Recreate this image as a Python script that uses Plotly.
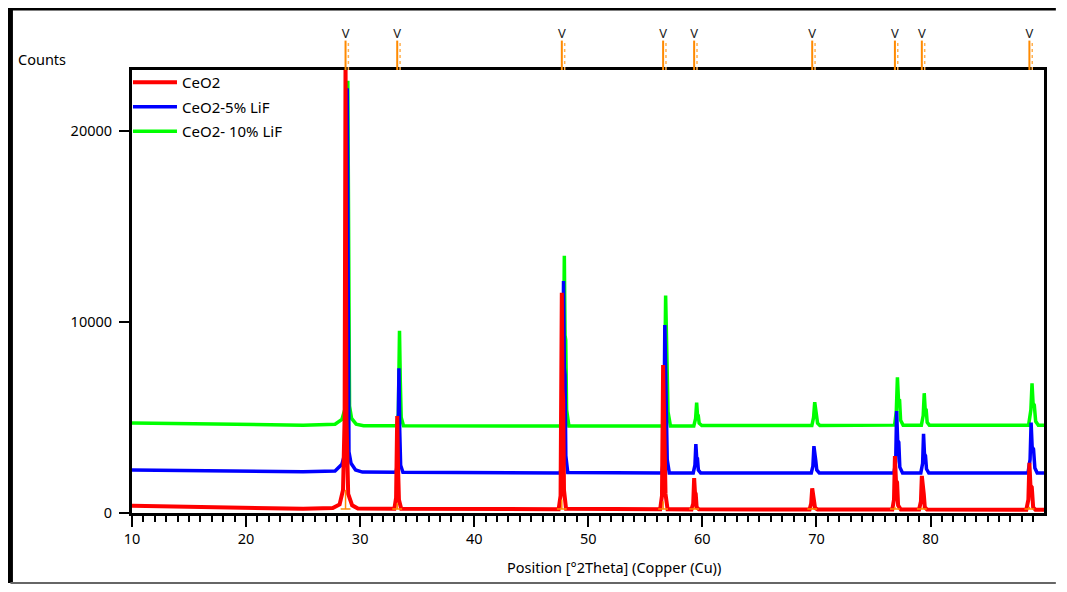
import plotly.graph_objects as go

# reference pattern (stick) positions and relative intensities
ref_pos = [28.72, 33.25, 47.68, 56.56, 59.28, 69.63, 76.88, 79.24, 88.67]
ref_rel = [100, 30, 50, 40, 8, 6, 12, 8, 12]

# CeO2 pattern, vertices
ceo2_x = [10, 13, 17, 21, 25, 27.6, 28.2, 28.5, 28.64, 28.72, 28.8, 28.95, 29.3, 29.8,
          33.0, 33.15, 33.25, 33.32, 33.4, 33.6,
          47.4, 47.57, 47.68, 47.74, 47.8, 47.87, 48.05,
          56.3, 56.46, 56.56, 56.63, 56.7, 56.77, 56.95,
          59.05, 59.2, 59.28, 59.35, 59.42, 59.5, 59.7,
          69.4, 69.54, 69.63, 69.7, 69.78, 69.88, 70.1,
          76.65, 76.8, 76.88, 76.97, 77.07, 77.16, 77.4,
          79.0, 79.16, 79.24, 79.32, 79.41, 79.5, 79.7,
          88.4, 88.58, 88.67, 88.76, 88.88, 89.0, 89.2, 90]
ceo2_y = [380, 350, 300, 260, 220, 260, 450, 1200, 5000, 24000, 5000, 1000, 400, 230,
          220, 800, 5080, 2500, 700, 220,
          200, 900, 11530, 6500, 5900, 1200, 220,
          200, 900, 7750, 4200, 4000, 1000, 200,
          190, 500, 1830, 1100, 1000, 300, 190,
          180, 500, 1290, 950, 900, 260, 180,
          180, 700, 2980, 1700, 1600, 400, 180,
          180, 600, 1940, 1050, 1000, 300, 180,
          170, 700, 2630, 1450, 1350, 300, 170, 170]

# CeO2-5% LiF
lif5_x = [10, 15, 20, 25, 27.8, 28.4, 28.7, 28.8, 28.87, 28.95, 29.02, 29.2, 29.6, 30.2,
          33.15, 33.3, 33.4, 33.47, 33.55, 33.75,
          47.55, 47.72, 47.83, 47.9, 47.96, 48.03, 48.2,
          56.45, 56.61, 56.71, 56.78, 56.85, 56.92, 57.1,
          59.2, 59.35, 59.43, 59.5, 59.57, 59.65, 59.85,
          69.55, 69.69, 69.78, 69.85, 69.93, 70.03, 70.25,
          76.8, 76.95, 77.03, 77.12, 77.22, 77.31, 77.55,
          79.15, 79.31, 79.39, 79.47, 79.56, 79.65, 79.85,
          88.55, 88.73, 88.82, 88.91, 89.03, 89.15, 89.35, 90]
lif5_y = [2250, 2220, 2190, 2160, 2200, 2550, 3200, 9000, 22230, 11000, 3200, 2600, 2250, 2140,
          2130, 2700, 7575, 4300, 2500, 2130,
          2100, 2900, 12150, 7600, 7225, 3000, 2120,
          2100, 2900, 9840, 6200, 6000, 2800, 2100,
          2100, 2500, 3610, 2900, 2850, 2250, 2100,
          2100, 2450, 3500, 2850, 2800, 2250, 2100,
          2100, 2700, 5340, 3800, 3700, 2400, 2100,
          2100, 2600, 4140, 3100, 3000, 2300, 2100,
          2100, 2800, 4730, 3450, 3350, 2350, 2100, 2100]

# CeO2- 10% LiF
lif10_x = [10, 15, 20, 25, 27.8, 28.4, 28.75, 28.85, 28.92, 29.0, 29.07, 29.25, 29.65, 30.3,
           33.2, 33.35, 33.45, 33.52, 33.6, 33.8,
           47.6, 47.78, 47.9, 47.96, 48.02, 48.1, 48.3,
           56.5, 56.67, 56.78, 56.85, 56.92, 56.99, 57.2,
           59.25, 59.41, 59.5, 59.57, 59.64, 59.72, 59.95,
           69.6, 69.75, 69.85, 69.92, 70.0, 70.1, 70.3,
           76.85, 77.0, 77.1, 77.19, 77.29, 77.38, 77.6,
           79.2, 79.36, 79.45, 79.53, 79.62, 79.71, 79.9,
           88.6, 88.8, 88.9, 88.99, 89.1, 89.22, 89.45, 90]
lif10_y = [4710, 4680, 4640, 4600, 4650, 4900, 5600, 11000, 22630, 12000, 5600, 4950, 4650, 4570,
           4570, 5200, 9545, 6900, 5000, 4570,
           4555, 5300, 13470, 9300, 9060, 5400, 4560,
           4560, 5300, 11380, 8300, 8100, 5300, 4560,
           4560, 4950, 5775, 5150, 5100, 4700, 4580,
           4580, 5000, 5800, 5200, 5150, 4700, 4580,
           4600, 5300, 7100, 5950, 5900, 4850, 4600,
           4600, 5100, 6270, 5450, 5400, 4750, 4600,
           4600, 5400, 6790, 5750, 5650, 4800, 4600, 4600]

series = [
    ("CeO2- 10% LiF", lif10_x, lif10_y, "#00FF00", 3, 3.5),
    ("CeO2-5% LiF", lif5_x, lif5_y, "#0000FF", 2, 3.5),
    ("CeO2", ceo2_x, ceo2_y, "#FF0000", 1, 4),
]

FONT = "Noto Sans"
ORANGE = "#FF8A00"
STICK_BASE = 210
STICK_SCALE = 10
DOT_OFFSET = 0.25

fig = go.Figure()

for name, xs, ys, color, rank, width in series:
    fig.add_trace(go.Scatter(x=xs, y=ys, mode="lines", name=name,
                             line=dict(color=color, width=width),
                             legendgroup=name, legendrank=rank))

# reference sticks at the bottom of the plot
sx, sy = [], []
for p, r in zip(ref_pos, ref_rel):
    sx += [p, p, None]
    sy += [STICK_BASE, STICK_BASE + r * STICK_SCALE, None]
fig.add_trace(go.Scatter(x=sx, y=sy, mode="lines", line=dict(color=ORANGE, width=1.5),
                         showlegend=False, hoverinfo="skip"))
fig.add_trace(go.Scatter(x=ref_pos, y=[STICK_BASE] * len(ref_pos), mode="markers",
                         marker=dict(symbol="line-ew", size=7, line=dict(color=ORANGE, width=1.5)),
                         showlegend=False, hoverinfo="skip"))

# reference markers in the strip above the plot
tx, ty, dx, dy = [], [], [], []
for p in ref_pos:
    tx += [p, p, None]
    ty += [0, 0.7, None]
    dx += [p + DOT_OFFSET, p + DOT_OFFSET, None]
    dy += [0, 0.7, None]
fig.add_trace(go.Scatter(x=tx, y=ty, yaxis="y2", mode="lines",
                         line=dict(color=ORANGE, width=2), showlegend=False, hoverinfo="skip"))
fig.add_trace(go.Scatter(x=dx, y=dy, yaxis="y2", mode="lines",
                         line=dict(color="#FFB050", width=1.5, dash="dot"),
                         showlegend=False, hoverinfo="skip"))
fig.add_trace(go.Scatter(x=ref_pos, y=[0.84] * len(ref_pos), yaxis="y2", mode="text",
                         text=["V"] * len(ref_pos), textfont=dict(family=FONT, size=13, color="#222"),
                         cliponaxis=False, showlegend=False, hoverinfo="skip"))

main_top = (513 - 70) / 485
frame_right = 1.013
frame_bottom = -70 / 485

fig.update_layout(
    width=1051, height=576,
    margin=dict(l=124, r=12, t=20, b=71),
    paper_bgcolor="white", plot_bgcolor="white",
    font=dict(family=FONT, size=14.5, color="black"),
    showlegend=True,
    legend=dict(x=-0.0044, y=main_top + 4 / 485, xanchor="left", yanchor="top",
                bgcolor="rgba(0,0,0,0)", font=dict(size=15),
                traceorder="grouped", tracegroupgap=2, itemwidth=44),
    xaxis=dict(range=[10, 89.95], dtick=10, tick0=10, showgrid=False, zeroline=False,
               showline=True, linecolor="black", linewidth=3, mirror=True,
               ticks="outside", ticklen=11, tickwidth=2, tickcolor="black",
               minor=dict(dtick=1, ticks="outside", ticklen=6, tickwidth=1.5, tickcolor="black"),
               anchor="y"),
    yaxis=dict(range=[0, 23190], tickvals=[0, 10000, 20000], tickformat="d",
               showgrid=False, zeroline=False,
               showline=True, linecolor="black", linewidth=3, mirror=True,
               ticks="outside", ticklen=10, tickwidth=2, tickcolor="black",
               ticklabelstandoff=4, domain=[0, main_top]),
    yaxis2=dict(range=[0, 1], domain=[main_top, 1], visible=False, anchor="x"),
)

# outer frame
fig.add_shape(type="line", xref="paper", yref="paper", x0=-0.1333, x1=-0.1333, y0=1.0412, y1=frame_bottom,
              line=dict(color="black", width=5))
fig.add_shape(type="line", xref="paper", yref="paper", x0=-0.1333, x1=frame_right, y0=1.0412, y1=1.0412,
              line=dict(color="black", width=5))
fig.add_shape(type="line", xref="paper", yref="paper", x0=-0.1333, x1=frame_right, y0=frame_bottom, y1=frame_bottom,
              line=dict(color="#666", width=2))

fig.add_annotation(text="Counts", xref="paper", yref="paper", x=-0.1268, y=0.936,
                   xanchor="left", yanchor="middle", showarrow=False, font=dict(size=14.5))
fig.add_annotation(text="Position [°2Theta] (Copper (Cu))", xref="paper", yref="paper",
                   x=0.528, y=-0.1113, xanchor="center", yanchor="middle", showarrow=False,
                   font=dict(size=14.5))

fig.write_html("out.html")
